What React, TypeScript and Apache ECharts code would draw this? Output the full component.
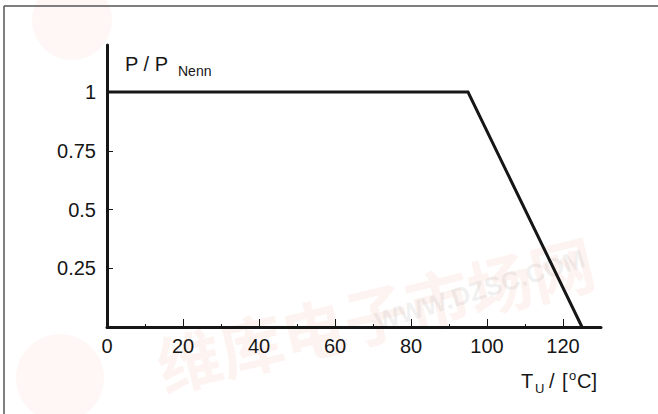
import React, { useEffect, useRef } from "react";
import * as echarts from "echarts";

// Data
const tempC = [0, 95, 125];
const powerRatio = [1, 1, 0];
const xLabelValues = [0, 20, 40, 60, 80, 100, 120];
const xMinorTickValues = [10, 30, 50, 70, 90, 110];
const yTickValues = [0.25, 0.5, 0.75, 1];

const FONT = "'Liberation Sans', Arial, Helvetica, sans-serif";
const INK = "#161616";

export default function App() {
  const ref = useRef<HTMLDivElement>(null);
  useEffect(() => {
    if (!ref.current) return;
    const chart = echarts.init(ref.current, undefined, { renderer: "svg" });
    const c = (baseline: number, size: number) => baseline - 0.35 * size;
    const txt = (text: string, x: number, baseline: number, size: number) => ({
      type: "text",
      x,
      y: c(baseline, size),
      style: { text, fontSize: size, fontFamily: FONT, fill: INK, align: "left", verticalAlign: "middle" },
    });
    chart.setOption({
      animation: false,
      backgroundColor: "#ffffff",
      grid: { left: 107, right: 57, top: 45, bottom: 87, containLabel: false },
      xAxis: [
        {
          type: "value",
          min: 0,
          max: 130,
          position: "bottom",
          axisLine: { show: true, onZero: false, lineStyle: { color: INK, width: 3 } },
          axisTick: {
            show: true,
            inside: true,
            length: 8,
            customValues: xLabelValues,
            lineStyle: { color: INK, width: 1 },
          },
          axisLabel: {
            show: true,
            customValues: xLabelValues,
            fontSize: 20,
            fontFamily: FONT,
            color: INK,
            margin: 9,
          },
          splitLine: { show: false },
        },
        {
          type: "value",
          min: 0,
          max: 130,
          position: "bottom",
          axisLine: { show: false },
          axisTick: {
            show: true,
            inside: true,
            length: 3,
            customValues: xMinorTickValues,
            lineStyle: { color: INK, width: 1 },
          },
          axisLabel: { show: false },
          splitLine: { show: false },
        },
      ],
      yAxis: {
        type: "value",
        min: 0,
        max: 1.2,
        axisLine: { show: true, onZero: false, lineStyle: { color: INK, width: 3 } },
        axisTick: {
          show: true,
          inside: true,
          length: 6,
          customValues: yTickValues,
          lineStyle: { color: INK, width: 1 },
        },
        axisLabel: {
          show: true,
          customValues: yTickValues,
          formatter: (v: number) => String(v),
          fontSize: 20,
          fontFamily: FONT,
          color: INK,
          margin: 11,
        },
        splitLine: { show: false },
      },
      series: [
        {
          type: "line",
          xAxisIndex: 0,
          data: tempC.map((t, i) => [t, powerRatio[i]]),
          showSymbol: false,
          symbol: "none",
          lineStyle: { color: INK, width: 3, join: "miter" },
          z: 5,
        },
      ],
      graphic: [
        // faint watermark
        {
          type: "circle",
          shape: { cx: 72, cy: 20, r: 40 },
          style: { fill: "rgba(235,120,90,0.06)" },
          silent: true,
          z: -10,
        },
        {
          type: "circle",
          shape: { cx: 60, cy: 378, r: 44 },
          style: { fill: "rgba(235,120,90,0.06)" },
          silent: true,
          z: -10,
        },
        {
          type: "text",
          x: 375,
          y: 312,
          rotation: 0.24,
          style: {
            text: "维库电子市场网",
            fontSize: 64,
            fontWeight: "bold",
            fontFamily: "'Noto Sans CJK SC', sans-serif",
            fill: "rgba(235,120,90,0.09)",
            align: "center",
            verticalAlign: "middle",
          },
          silent: true,
          z: -10,
        },
        {
          type: "text",
          x: 480,
          y: 290,
          rotation: 0.3,
          style: {
            text: "WWW.DZSC.COM",
            fontSize: 26,
            fontWeight: "bold",
            fontFamily: FONT,
            fill: "rgba(150,150,150,0.14)",
            align: "center",
            verticalAlign: "middle",
          },
          silent: true,
          z: -10,
        },
        // frame
        {
          type: "line",
          shape: { x1: 4, y1: 6, x2: 658, y2: 6 },
          style: { stroke: "#555", lineWidth: 1.5 },
          silent: true,
        },
        {
          type: "line",
          shape: { x1: 4, y1: 6, x2: 4, y2: 414 },
          style: { stroke: "#555", lineWidth: 1.5 },
          silent: true,
        },
        // y axis title
        txt("P / P", 125, 71, 20),
        txt("Nenn", 178, 76, 14),
        // x axis title
        txt("T", 521, 388, 20),
        txt("U", 535, 393, 13),
        txt("/", 549, 388, 20),
        txt("[", 562, 388, 20),
        txt("o", 569, 380, 13),
        txt("C]", 577, 388, 20),
      ],
    });
    return () => chart.dispose();
  }, []);
  return (
    <div
      ref={ref}
      style={{ position: "fixed", left: 0, top: 0, width: 658, height: 414, background: "#fff" }}
    />
  );
}
